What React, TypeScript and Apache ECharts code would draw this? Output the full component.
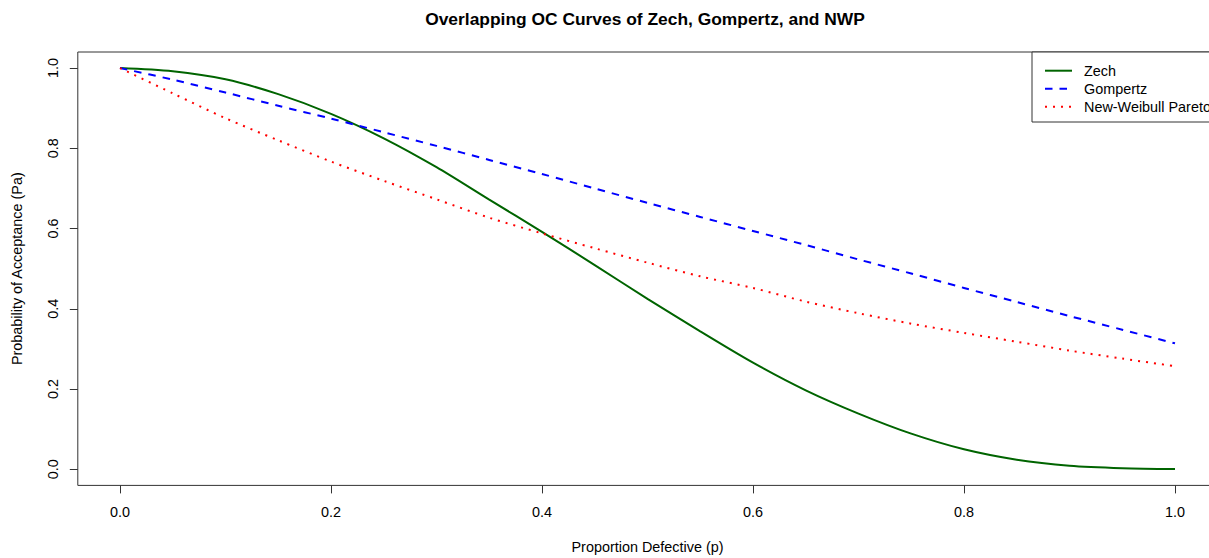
import React, { useEffect, useRef } from "react";
import * as echarts from "echarts";

const pValues = [0, 0.05, 0.1, 0.15, 0.2, 0.25, 0.3, 0.35, 0.4, 0.45, 0.5, 0.55, 0.6, 0.65, 0.7, 0.75, 0.8, 0.85, 0.9, 0.95, 1.0];
const zech = [1.0, 0.992, 0.972, 0.935, 0.886, 0.825, 0.753, 0.672, 0.592, 0.509, 0.425, 0.344, 0.266, 0.197, 0.139, 0.089, 0.05, 0.024, 0.009, 0.003, 0.001];
const gompertz = [1.0, 0.971, 0.939, 0.906, 0.874, 0.84, 0.806, 0.771, 0.736, 0.70, 0.664, 0.629, 0.594, 0.559, 0.523, 0.488, 0.452, 0.417, 0.382, 0.348, 0.314];
const nwp = [1.0, 0.937, 0.875, 0.82, 0.767, 0.719, 0.673, 0.627, 0.588, 0.551, 0.515, 0.481, 0.452, 0.418, 0.389, 0.363, 0.34, 0.318, 0.296, 0.276, 0.257];
const xTicks = [0, 0.2, 0.4, 0.6, 0.8, 1.0];
const yTicks = [0, 0.2, 0.4, 0.6, 0.8, 1.0];
const seriesNames = ["Zech", "Gompertz", "New-Weibull Pareto"];

const FONT = "'Liberation Sans', Arial, Helvetica, sans-serif";

export default function App() {
  const ref = useRef<HTMLDivElement>(null);
  useEffect(() => {
    if (!ref.current) return;
    const chart = echarts.init(ref.current, undefined, { renderer: "svg" });
    const pairs = (ys: number[]) => pValues.map((p, i) => [p, ys[i]]);
    const colors = ["#006400", "#0000FF", "#FF0000"];
    const dashes: any[] = ["solid", [7.5, 7], [2, 6]];
    const allSeries = [zech, gompertz, nwp];

    const legendX = 1032;
    const legendY = 52;
    const rowY = [70.7, 88.7, 106.7];
    const legendGraphics: any[] = [
      {
        type: "rect",
        shape: { x: legendX, y: legendY, width: 320, height: 70 },
        style: { fill: "#fff", stroke: "#333", lineWidth: 1 },
        z: 100,
      },
    ];
    seriesNames.forEach((name, i) => {
      legendGraphics.push({
        type: "line",
        shape: { x1: 1045, y1: rowY[i], x2: 1072, y2: rowY[i] },
        style: {
          stroke: colors[i],
          lineWidth: 2,
          lineDash: dashes[i] === "solid" ? null : dashes[i],
          lineCap: "butt",
        },
        z: 101,
      });
      legendGraphics.push({
        type: "text",
        x: 1084,
        y: rowY[i],
        style: {
          text: name,
          fill: "#000",
          font: `14.4px ${FONT}`,
          verticalAlign: "middle",
          align: "left",
        },
        z: 101,
      });
    });

    chart.setOption({
      animation: false,
      backgroundColor: "#fff",
      textStyle: { fontFamily: FONT },
      title: {
        text: "Overlapping OC Curves of Zech, Gompertz, and NWP",
        left: 645,
        top: 10,
        padding: 0,
        textAlign: "center",
        textStyle: { fontFamily: FONT, fontSize: 17.4, fontWeight: "bold", color: "#000" },
      },
      grid: {
        left: 77.8,
        top: 52,
        width: 1139.4,
        height: 433.4,
        show: true,
        borderColor: "#333",
        borderWidth: 1,
        backgroundColor: "transparent",
        containLabel: false,
        outerBoundsMode: "none",
      },
      xAxis: {
        type: "value",
        min: -0.04,
        max: 1.04,
        name: "Proportion Defective (p)",
        nameLocation: "middle",
        nameGap: 55,
        nameTextStyle: { fontFamily: FONT, fontSize: 14.4, color: "#000" },
        axisLine: { show: false, onZero: false },
        splitLine: { show: false },
        axisTick: {
          show: true,
          inside: false,
          length: 8,
          customValues: xTicks,
          lineStyle: { color: "#333", width: 1 },
        },
        axisLabel: {
          customValues: xTicks,
          margin: 20,
          fontFamily: FONT,
          fontSize: 14.4,
          color: "#000",
          formatter: (v: number) => v.toFixed(1),
        },
      },
      yAxis: {
        type: "value",
        min: -0.04,
        max: 1.04,
        name: "Probability of Acceptance (Pa)",
        nameLocation: "middle",
        nameGap: 54,
        nameTextStyle: { fontFamily: FONT, fontSize: 14.4, color: "#000" },
        axisLine: { show: false, onZero: false },
        splitLine: { show: false },
        axisTick: {
          show: true,
          inside: false,
          length: 8,
          customValues: yTicks,
          lineStyle: { color: "#333", width: 1 },
        },
        axisLabel: {
          customValues: yTicks,
          margin: 18,
          rotate: 90,
          fontFamily: FONT,
          fontSize: 14.4,
          color: "#000",
          formatter: (v: number) => v.toFixed(1),
        },
      },
      series: allSeries.map((ys, i) => ({
        name: seriesNames[i],
        type: "line",
        data: pairs(ys),
        showSymbol: false,
        symbol: "none",
        smooth: 0.3,
        clip: true,
        lineStyle: { color: colors[i], width: 2, type: dashes[i], cap: "butt" },
        itemStyle: { color: colors[i] },
      })),
      graphic: legendGraphics,
    });
    return () => chart.dispose();
  }, []);
  return (
    <div
      ref={ref}
      style={{ position: "fixed", left: 0, top: 0, width: 1240, height: 558, background: "#fff" }}
    />
  );
}
